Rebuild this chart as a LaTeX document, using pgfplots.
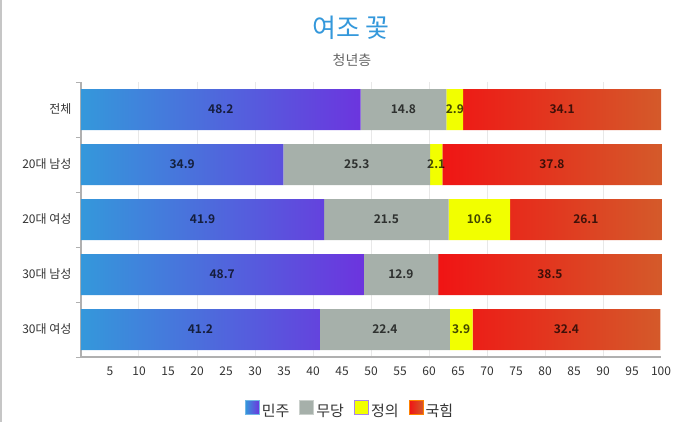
\documentclass[border=0pt]{standalone}
\usepackage{pgfplots}
\pgfplotsset{compat=1.18}
\usepackage{fontspec}
\setmainfont{Noto Sans CJK KR}[BoldFont={Noto Sans CJK KR Bold}]
\definecolor{mjA}{RGB}{52,152,219}
\definecolor{mjB}{RGB}{108,52,222}
\definecolor{mdC}{RGB}{166,176,170}
\definecolor{jyC}{RGB}{242,255,0}
\definecolor{khA}{RGB}{240,20,20}
\definecolor{khB}{RGB}{212,90,42}
\definecolor{ttl}{RGB}{52,152,219}
\definecolor{axc}{RGB}{176,176,176}
\definecolor{grd}{RGB}{232,232,232}
\definecolor{txt}{RGB}{51,51,51}
\definecolor{sub}{RGB}{102,102,102}
\begin{document}
\begin{tikzpicture}
\useasboundingbox (0pt,0pt) rectangle (699pt,422pt);
\fill[gray!45] (0pt,0pt) rectangle (2pt,422pt);
\node[text=ttl, font=\fontsize{26}{30}\selectfont] at (351pt,394pt) {여조 꽃};
\node[text=sub, font=\fontsize{14}{16}\selectfont] at (352pt,362pt) {청년층};
\begin{axis}[
  at={(81pt,65pt)}, anchor=south west,
  scale only axis, width=580pt, height=275pt,
  xbar stacked, bar width=41pt,
  xmin=0, xmax=100, ymin=-0.5, ymax=4.5, y dir=reverse,
  clip=false,
  axis x line*=bottom, axis y line*=left,
  axis line style={axc, line width=1.5pt},
  xtick={5,10,...,100},
  minor xtick={10,20,...,90},
  xminorgrids=true,
  minor grid style={grd, line width=1pt},
  minor x tick style={draw=none},
  ytick={0,1,2,3,4},
  yticklabels={전체, 20대 남성, 20대 여성, 30대 남성, 30대 여성},
  minor ytick={-0.5,0.5,...,4.5},
  minor y tick style={axc, line width=1pt},
  tick align=outside,
  major tick length=0pt,
  minor tick length=5pt,
  /pgf/number format/assume math mode=true,
  tick label style={font=\fontsize{12}{14}\selectfont, text=txt},
  xticklabel style={yshift=-6pt},
  yticklabel style={xshift=-6pt},
  point meta=rawx,
  nodes near coords={\pgfmathfloatifflags{\pgfplotspointmeta}{0}{}{\pgfmathprintnumber[fixed,fixed zerofill,precision=1]{\pgfplotspointmeta}}},
  every node near coord/.append style={anchor=center,
     font=\bfseries\fontsize{12}{14}\selectfont, text=black, text opacity=0.72},
  legend columns=4,
  legend style={at={(0.4638,-0.193)}, anchor=center, draw=none, fill=none,
     font=\fontsize{15}{17}\selectfont, text=txt,
     /tikz/every even column/.append style={column sep=8pt}},
]
\addplot[draw=none, left color=mjA, right color=mjB,
  legend image code/.code={\draw[line width=1pt, draw=mjA!70, left color=mjA, right color=mjB] (0pt,-3pt) rectangle (14pt,11pt);}]
  coordinates {(48.2,0) (34.9,1) (41.9,2) (48.7,3) (41.2,4)};
\addlegendentry{민주}
\addplot[draw=none, fill=mdC,
  legend image code/.code={\draw[line width=1pt, draw=mdC!60, fill=mdC] (0pt,-3pt) rectangle (14pt,11pt);}]
  coordinates {(14.8,0) (25.3,1) (21.5,2) (12.9,3) (22.4,4)};
\addlegendentry{무당}
\addplot[draw=none, fill=jyC,
  legend image code/.code={\draw[line width=1pt, draw=mjB!60, fill=jyC] (0pt,-3pt) rectangle (14pt,11pt);}]
  coordinates {(2.9,0) (2.1,1) (10.6,2) (0,3) (3.9,4)};
\addlegendentry{정의}
\addplot[draw=none, left color=khA, right color=khB,
  legend image code/.code={\draw[line width=1pt, draw=orange, left color=khA, right color=khB] (0pt,-3pt) rectangle (14pt,11pt);}]
  coordinates {(34.1,0) (37.8,1) (26.1,2) (38.5,3) (32.4,4)};
\addlegendentry{국힘}
\end{axis}
\end{tikzpicture}
\end{document}
